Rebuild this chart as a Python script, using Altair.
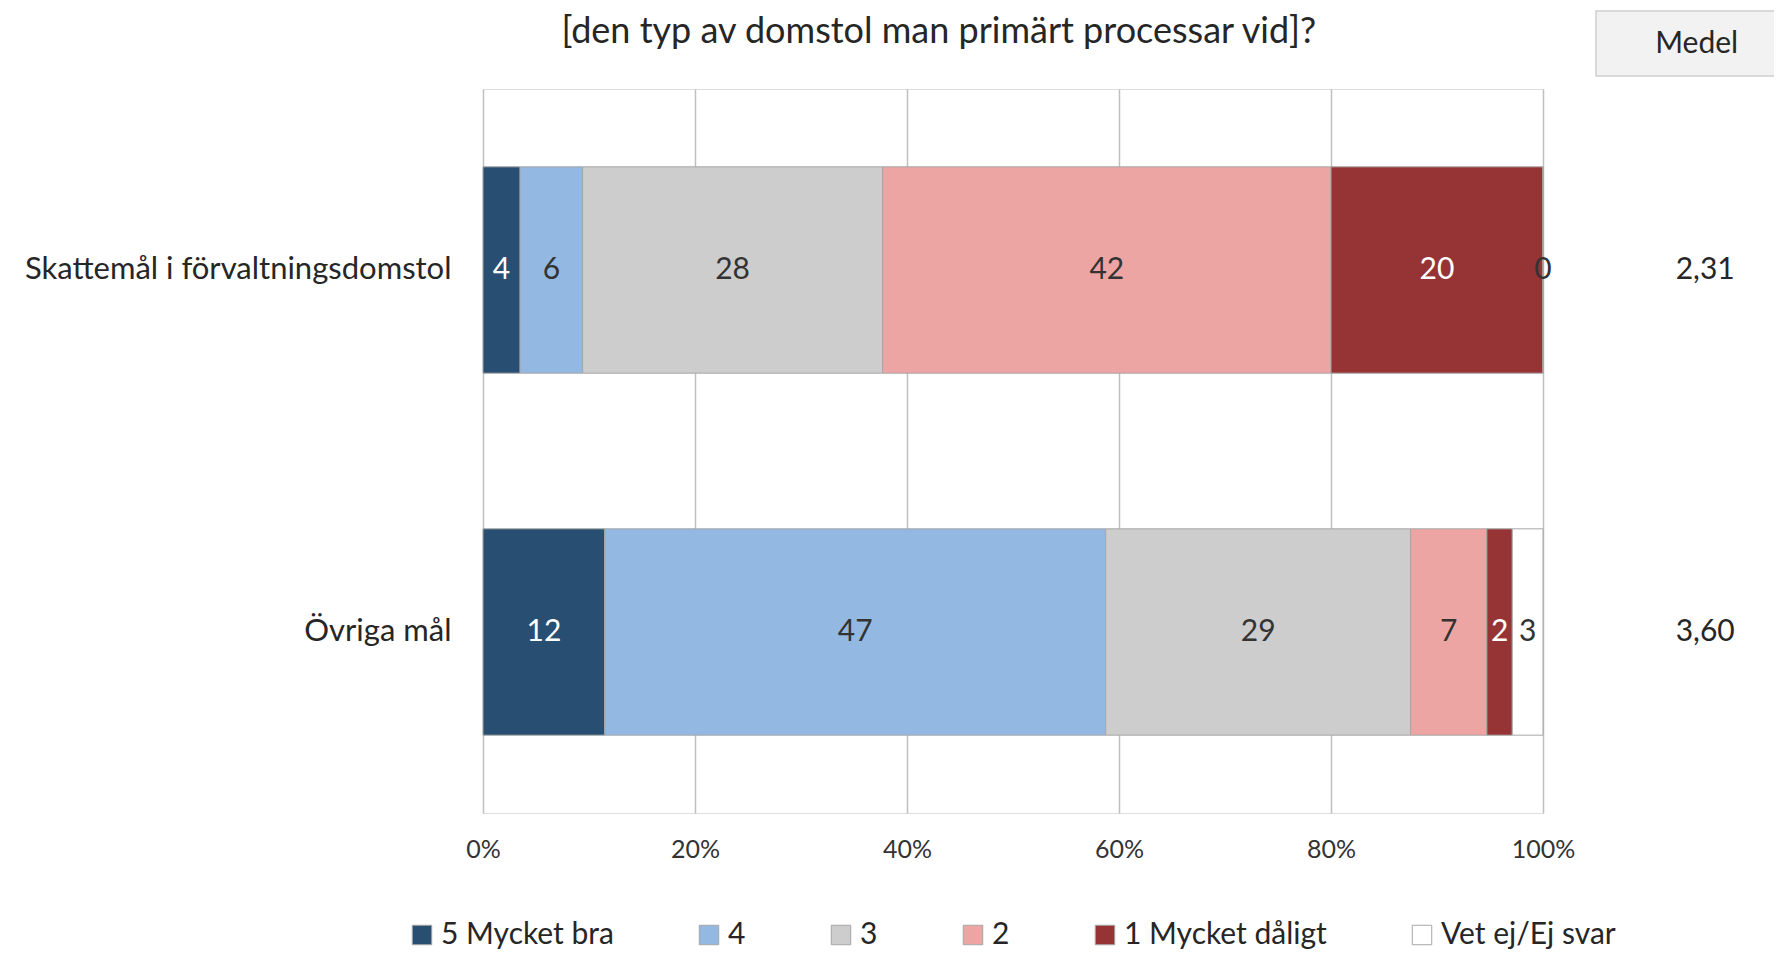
import altair as alt
import pandas as pd

title_text = "[den typ av domstol man primärt processar vid]?"
categories = ["Skattemål i förvaltningsdomstol", "Övriga mål"]
responses = ["5 Mycket bra", "4", "3", "2", "1 Mycket dåligt", "Vet ej/Ej svar"]
colors = ["#284E71", "#93B9E3", "#CDCDCD", "#EDA5A4", "#963335", "#FFFFFF"]
text_colors = ["#FFFFFF", "#333333", "#333333", "#333333", "#FFFFFF", "#333333"]
values_skatt = [3.5, 5.9, 28.3, 42.3, 20.0, 0.0]
values_ovriga = [11.5, 47.3, 28.8, 7.2, 2.4, 2.9]
means = ["2,31", "3,60"]
tick_values = [0, 0.2, 0.4, 0.6, 0.8, 1.0]

FONT = "Lato"
rows = []
for cat, vals in zip(categories, [values_skatt, values_ovriga]):
    for i, (r, v) in enumerate(zip(responses, vals)):
        rows.append({"cat": cat, "resp": r, "value": v, "order": i, "tcol": text_colors[i]})
df = pd.DataFrame(rows)
mean_df = pd.DataFrame({"cat": categories, "mean": means})
head_df = pd.DataFrame({"h": ["Medel"]})
title_df = pd.DataFrame({"t": [title_text]})

xscale = alt.Scale(domain=[0, 1], clamp=False, nice=False)
yscale = alt.Scale(domain=categories, paddingInner=0.43, paddingOuter=0.215)

base = (
    alt.Chart(df)
    .transform_joinaggregate(total="sum(value)", groupby=["cat"])
    .transform_calculate(pct="datum.value / datum.total")
    .transform_stack(stack="pct", as_=["x0", "x1"], groupby=["cat"], sort=[alt.SortField("order")])
    .transform_calculate(mid="(datum.x0 + datum.x1) / 2")
)

bars = base.mark_bar(stroke="#A6A6A6", strokeWidth=1).encode(
    x=alt.X("x0:Q", scale=xscale, title=None,
            axis=alt.Axis(values=tick_values, format=".0%", grid=True, gridColor="#BFBFBF",
                          gridWidth=1.5, domain=False, ticks=False, labelPadding=24,
                          labelFlush=False, labelFontSize=25, labelFont=FONT,
                          labelColor="#333333")),
    x2="x1:Q",
    y=alt.Y("cat:N", scale=yscale, title=None,
            axis=alt.Axis(grid=False, domain=False, ticks=False, labelPadding=32,
                          labelFontSize=31, labelFont=FONT, labelColor="#262626", labelLimit=600)),
    color=alt.Color("resp:N", scale=alt.Scale(domain=responses, range=colors),
                    legend=alt.Legend(title=None, orient="none", direction="horizontal",
                                      legendX=-76, legendY=831, symbolType="square",
                                      symbolSize=380, symbolStrokeColor="#A6A6A6",
                                      symbolStrokeWidth=1, labelFontSize=30, labelFont=FONT,
                                      labelColor="#262626", labelOffset=4, labelLimit=500,
                                      columnPadding=80)),
)

labels = base.mark_text(fontSize=30, font=FONT).encode(
    x=alt.X("mid:Q", scale=xscale),
    y=alt.Y("cat:N", scale=yscale),
    text=alt.Text("value:Q", format=".0f"),
    color=alt.Color("tcol:N", scale=None),
)

head_box = alt.Chart(head_df).mark_rect(fill="#F2F2F2", stroke="#D0D0D0", strokeWidth=1.5).encode(
    x=alt.datum(1.05), x2=alt.datum(1.25), y=alt.value(-78), y2=alt.value(-13)
)
head_text = alt.Chart(head_df).mark_text(fontSize=30, font=FONT, color="#262626").encode(
    x=alt.datum(1.145), y=alt.value(-45), text="h:N"
)
mean_text = alt.Chart(mean_df).mark_text(fontSize=30, font=FONT, color="#262626").encode(
    x=alt.datum(1.153), y=alt.Y("cat:N", scale=yscale), text="mean:N"
)
title_mark = alt.Chart(title_df).mark_text(fontSize=36, font=FONT, color="#262626").encode(
    x=alt.datum(0.43), y=alt.value(-57), text="t:N"
)

chart = (
    alt.layer(bars, labels, head_box, head_text, mean_text, title_mark)
    .properties(
        width=1060, height=724,
        autosize=alt.AutoSizeParams(type="none"),
        padding={"left": 475, "top": 81, "right": 231, "bottom": 137},
    )
    .configure_view(stroke=None)
    .configure(background="white")
)

chart.save("out.html", embed_options={"renderer": "svg", "actions": False})
